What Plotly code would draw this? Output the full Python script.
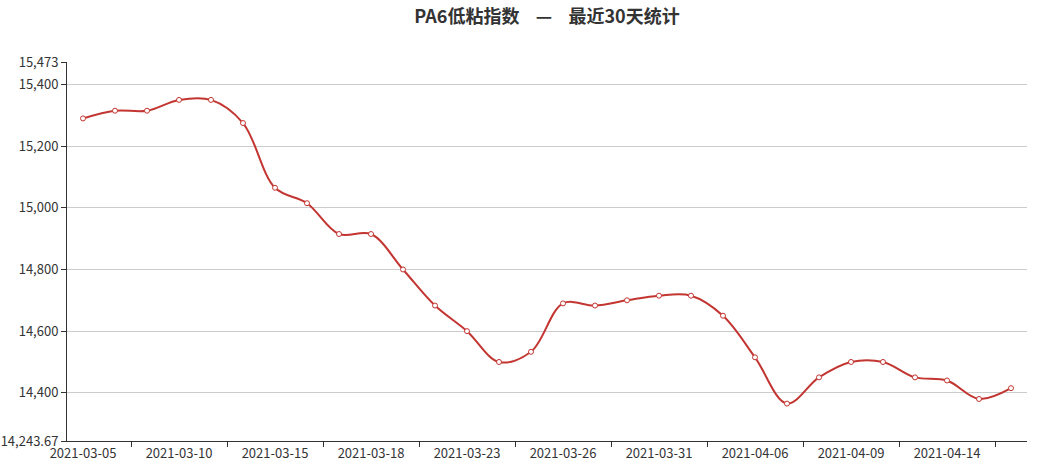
import plotly.graph_objects as go

dates = ["2021-03-05", "2021-03-08", "2021-03-09", "2021-03-10", "2021-03-11", "2021-03-12",
         "2021-03-15", "2021-03-16", "2021-03-17", "2021-03-18", "2021-03-19", "2021-03-22",
         "2021-03-23", "2021-03-24", "2021-03-25", "2021-03-26", "2021-03-29", "2021-03-30",
         "2021-03-31", "2021-04-01", "2021-04-02", "2021-04-06", "2021-04-07", "2021-04-08",
         "2021-04-09", "2021-04-12", "2021-04-13", "2021-04-14", "2021-04-15", "2021-04-16"]
values = [15290, 15315, 15315, 15350, 15350, 15275,
          15065, 15015, 14915, 14915, 14800, 14683,
          14600, 14500, 14533, 14690, 14683, 14700,
          14715, 14715, 14650, 14515, 14365, 14450,
          14500, 14500, 14450, 14440, 14380, 14415]
y_min = 14243.67
y_max = 15473
y_ticks = [14243.67, 14400, 14600, 14800, 15000, 15200, 15400, 15473]
label_step = 3

title_text = "PA6低粘指数\u00a0\u00a0\u00a0\u00a0—\u00a0\u00a0\u00a0\u00a0最近30天统计"

xs = list(range(len(dates)))
label_idx = xs[::label_step]
tick_idx = [i + 1.5 for i in xs[::label_step]]

def fmt(v):
    if float(v).is_integer():
        return f"{int(v):,}"
    return f"{v:,.2f}"

fig = go.Figure()
fig.add_trace(go.Scatter(
    x=xs, y=values, customdata=dates,
    mode="lines+markers",
    line=dict(color="#c23531", width=2, shape="spline", smoothing=1.0),
    marker=dict(symbol="circle", size=5, color="white",
                line=dict(color="#c23531", width=1)),
    hovertemplate="%{customdata}<br>%{y}<extra></extra>",
    showlegend=False,
))

fig.update_layout(
    width=1038, height=473,
    margin=dict(l=67, r=11, t=62, b=32),
    paper_bgcolor="white", plot_bgcolor="white",
    font=dict(family="Noto Sans CJK SC, Noto Sans, sans-serif", color="#333", size=12),
    title=dict(text=title_text, x=0.527, xanchor="center", y=0.964, yanchor="middle",
               font=dict(size=18, color="#333", family="Noto Sans CJK SC, sans-serif", weight="bold")),
    xaxis=dict(
        range=[-0.5, len(dates) - 0.5],
        tickvals=label_idx,
        ticktext=[dates[i] for i in label_idx],
        ticks="", showgrid=False, zeroline=False, automargin=False,
        showline=True, linecolor="#333", linewidth=1,
        tickfont=dict(size=13, color="#333"),
        minor=dict(tickvals=tick_idx, ticks="outside", ticklen=5, tickcolor="#333",
                   tickwidth=1, showgrid=False),
    ),
    yaxis=dict(
        range=[y_min, y_max],
        tickvals=y_ticks,
        ticktext=[fmt(v) for v in y_ticks],
        ticks="outside", ticklen=5, tickcolor="#333",
        showgrid=True, gridcolor="#ccc", gridwidth=1,
        zeroline=False, automargin=False,
        showline=True, linecolor="#333", linewidth=1,
        tickfont=dict(size=13, color="#333"),
    ),
)

fig.write_html("out.html",
               config={"displayModeBar": False},
               post_script="document.body.style.margin='0';document.body.style.overflow='hidden';")
